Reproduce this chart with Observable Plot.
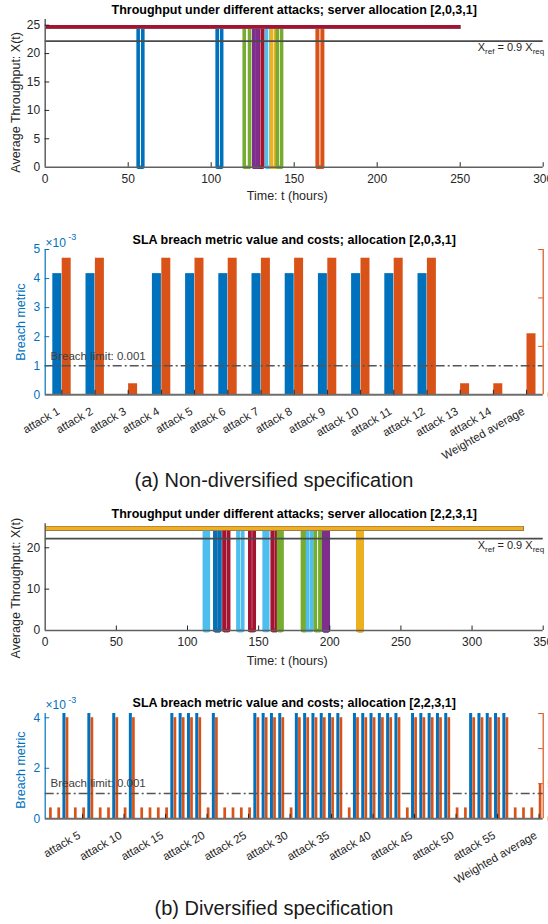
<!DOCTYPE html>
<html>
<head>
<meta charset="utf-8">
<script src="https://cdn.jsdelivr.net/npm/d3@7"></script>
<script src="https://cdn.jsdelivr.net/npm/@observablehq/plot@0.6"></script>
<style>
  html, body { margin: 0; padding: 0; background: #fff; }
  #root { position: relative; width: 548px; height: 924px; overflow: hidden; background: #fff;
          font-family: "Liberation Sans", Arial, Helvetica, sans-serif; }
  .panel { position: absolute; left: 0; }
  .caption { position: absolute; left: 0; width: 548px; text-align: center; font-size: 20px;
             line-height: 24px; color: #1a1a1a; font-family: "Liberation Sans", Arial, Helvetica, sans-serif; }
</style>
</head>
<body>
<div id="root"></div>
<script>
// ---------------- DATA ----------------
const colorOrder = ["#0072BD", "#D95319", "#EDB120", "#7E2F8E", "#77AC30", "#4DBEEE", "#A2142F"];
const nominalThroughput = 24.7;
const refThroughput = 22.2;
const breachLimit = 1; // x10^-3

// (a) throughput: dip start / end time per attack (hours), null = no dip
const dipStartA = [56.0, 164.0, null, 125.6, 119.9, 133.3, 128.6, 103.6, 164.0, 136.3, 125.8, 139.8, null, null];
const dipEndA   = [58.8, 167.0, null, 128.0, 123.1, 136.0, 131.0, 106.3, 167.0, 138.8, 128.2, 142.4, null, null];
const endTimeA = 250;
const timeTicksA = [0, 50, 100, 150, 200, 250, 300];
const thrTicksA = [0, 5, 10, 15, 20, 25];

// (a) breach metric (x10^-3) and cost (right axis)
const catsA = ["attack 1", "attack 2", "attack 3", "attack 4", "attack 5", "attack 6", "attack 7",
  "attack 8", "attack 9", "attack 10", "attack 11", "attack 12", "attack 13", "attack 14", "Weighted average"];
const breachA = [4.17, 4.17, 0, 4.17, 4.17, 4.17, 4.17, 4.17, 4.17, 4.17, 4.17, 4.17, 0, 0, 0];
const costA   = [14.1, 14.1, 1.14, 14.1, 14.1, 14.1, 14.1, 14.1, 14.1, 14.1, 14.1, 14.1, 1.14, 1.14, 6.3];
const breachTicksA = [0, 1, 2, 3, 4, 5];
const costTicks = [0, 5, 10, 15];

// (b) throughput dips for 59 attacks
const dipStartB = [
  null, null, 220.0, null, null, 112.0, null, null, 119.5, null,
  195.8, null, null, null, null, 119.5, 220.0, 195.8, 164.0, null,
  125.8, null, null, null, null, 189.8, 135.6, 143.8, 119.5, null,
  220.0, 195.8, 180.9, 135.6, 159.7, 119.5, null, 220.0, 195.8, 189.8,
  153.9, 159.7, 119.5, null, 220.0, 195.8, 180.9, 184.4, 143.8, null,
  null, 220.0, 195.8, 164.0, 112.0, 125.8, null, null, null];
const dipEndB = [
  null, null, 222.8, null, null, 114.6, null, null, 122.5, null,
  198.9, null, null, null, null, 122.5, 222.8, 198.9, 166.3, null,
  128.8, null, null, null, null, 193.2, 138.7, 146.9, 122.5, null,
  222.8, 198.9, 183.4, 138.7, 162.6, 122.5, null, 222.8, 198.9, 193.2,
  156.4, 162.6, 122.5, null, 222.8, 198.9, 183.4, 187.2, 146.9, null,
  null, 222.8, 198.9, 166.3, 114.6, 128.8, null, null, null];
const endTimeB = 336;
const timeTicksB = [0, 50, 100, 150, 200, 250, 300, 350];
const thrTicksB = [0, 10, 20];

// (b) breach metric and cost for 59 attacks + weighted average
const catsB = [...Array.from({length: 59}, (_, i) => "attack " + (i + 1)), "Weighted average"];
const labelCatsB = ["attack 5", "attack 10", "attack 15", "attack 20", "attack 25", "attack 30",
  "attack 35", "attack 40", "attack 45", "attack 50", "attack 55", "Weighted average"];
const breachB = [
  0, 0, 4.17, 0, 0, 4.17, 0, 0, 4.17, 0,
  4.17, 0, 0, 0, 0, 4.17, 4.17, 4.17, 4.17, 0,
  4.17, 0, 0, 0, 0, 4.17, 4.17, 4.17, 4.17, 0,
  4.17, 4.17, 4.17, 4.17, 4.17, 4.17, 0, 4.17, 4.17, 4.17,
  4.17, 4.17, 4.17, 0, 4.17, 4.17, 4.17, 4.17, 4.17, 0,
  0, 4.17, 4.17, 4.17, 4.17, 4.17, 0, 0, 0, 0];
const costB = [
  1.55, 1.55, 14.4, 1.55, 1.55, 14.4, 1.55, 1.55, 14.4, 1.55,
  14.4, 1.55, 1.55, 1.55, 1.55, 14.4, 14.4, 14.4, 14.4, 1.55,
  14.4, 1.55, 1.55, 1.55, 1.55, 14.4, 14.4, 14.4, 14.4, 1.55,
  14.4, 14.4, 14.4, 14.4, 14.4, 14.4, 1.55, 14.4, 14.4, 14.4,
  14.4, 14.4, 14.4, 1.55, 14.4, 14.4, 14.4, 14.4, 14.4, 1.55,
  1.55, 14.4, 14.4, 14.4, 14.4, 14.4, 1.55, 1.55, 1.55, 5.0];
const breachTicksB = [0, 2, 4];

// ---------------- DRAWING ----------------
const W = 548;
const BLUE = "#0072BD", ORANGE = "#D95319";
const TICK = "#262626", AXIS = "#606060";
const FONT = '"Liberation Sans", Arial, Helvetica, sans-serif';
const REF_LABEL = "Xref = 0.9 Xreq";
const root = document.getElementById("root");

function dipSeries(start, end, endTime) {
  if (start == null) return [{t: 0, v: nominalThroughput}, {t: endTime, v: nominalThroughput}];
  return [
    {t: 0, v: nominalThroughput}, {t: start, v: nominalThroughput}, {t: start, v: 0},
    {t: end, v: 0}, {t: end, v: nominalThroughput}, {t: endTime, v: nominalThroughput}
  ];
}

function place(svg, top) {
  const wrap = document.createElement("div");
  wrap.className = "panel";
  wrap.style.top = top + "px";
  wrap.appendChild(svg);
  root.appendChild(wrap);
  d3.select(svg).selectAll("text").each(function () {
    if (this.textContent === REF_LABEL) {
      const t = d3.select(this);
      t.text(null);
      t.append("tspan").text("X");
      t.append("tspan").attr("dy", "3").attr("font-size", "8").text("ref");
      t.append("tspan").attr("dy", "-3").text(" = 0.9 X");
      t.append("tspan").attr("dy", "3").attr("font-size", "8").text("req");
    }
  });
}

function linePanel(o) {
  const fh = o.h - o.mt - o.mb, fw = W - o.ml - o.mr;
  const marks = [];
  o.starts.forEach((s, i) => {
    marks.push(Plot.line(dipSeries(s, o.ends[i], o.endTime), {
      x: "t", y: "v", stroke: colorOrder[i % 7], strokeWidth: 3.6, strokeLinejoin: "round", strokeLinecap: "butt"
    }));
  });
  marks.push(
    Plot.ruleY([refThroughput], {stroke: "#4a4a4a", strokeWidth: 1.8}),
    Plot.ruleX([0], {stroke: AXIS, strokeWidth: 1.5}),
    Plot.ruleY([0], {stroke: AXIS, strokeWidth: 1.5}),
    Plot.ruleX(o.xTicks.slice(1), {x: d => d, stroke: TICK, strokeWidth: 1, insetTop: fh - 4.5}),
    Plot.ruleY(o.yTicks.slice(1), {y: d => d, stroke: TICK, strokeWidth: 1, insetRight: fw - 4.5}),
    Plot.axisX({ticks: o.xTicks, tickSize: 0, tickPadding: 7, label: null, fontSize: 12, color: TICK, tickFormat: d => String(d)}),
    Plot.axisY({ticks: o.yTicks, tickSize: 0, tickPadding: 5, label: null, fontSize: 12, color: TICK, tickFormat: d => String(d)}),
    Plot.text([o.title], {frameAnchor: "top", lineAnchor: "middle", dy: o.titleDy, fontWeight: "bold", fontSize: 12.5, fill: "#000"}),
    Plot.text(["Time: t (hours)"], {frameAnchor: "bottom", lineAnchor: "middle", textAnchor: "middle", dy: o.xlabDy, dx: -7, fontSize: 12.5, fill: TICK}),
    Plot.text(["Average Throughput: X(t)"], {frameAnchor: "left", textAnchor: "middle", lineAnchor: "middle", rotate: -90, dx: -29.7, dy: o.ylabDy, fontSize: 12.5, fill: TICK}),
    Plot.text([REF_LABEL], {y: () => refThroughput, frameAnchor: "right", textAnchor: "end", lineAnchor: "middle", dy: o.refDy, dx: 1, fontSize: 11, fill: TICK})
  );
  return Plot.plot({
    width: W, height: o.h,
    marginTop: o.mt, marginBottom: o.mb, marginLeft: o.ml, marginRight: o.mr,
    x: {type: "linear", domain: o.xDomain, axis: null},
    y: {type: "linear", domain: o.yDomain, axis: null},
    style: {fontFamily: FONT, fontSize: "12px", color: TICK, background: "transparent"},
    marks
  });
}

function barPanel(o) {
  const fh = o.h - o.mt - o.mb, fw = W - o.ml - o.mr;
  const bw = fw / o.cats.length;
  const k = o.yMax / 15;
  const rows = o.cats.map((c, i) => ({cat: c, breach: o.breach[i], cost: o.cost[i]}));
  const marks = [
    Plot.barY(rows, {x: "cat", y: "breach", fill: BLUE,
      insetLeft: bw * (0.5 - o.blueW), insetRight: bw * 0.5}),
    Plot.barY(rows, {x: "cat", y: d => d.cost * k, fill: ORANGE,
      insetLeft: bw * (0.5 + o.orangeGap), insetRight: bw * (0.5 - o.orangeGap - o.orangeW)}),
    Plot.ruleY([breachLimit], {y: d => d, stroke: "#555", strokeWidth: 1.5, strokeDasharray: "9,3,2,3"}),
    Plot.text(["Breach limit: 0.001"], {y: () => breachLimit, frameAnchor: "left", textAnchor: "start", lineAnchor: "middle",
      dx: 5.3, dy: o.limitDy, fontSize: 11.5, fill: "#404040"}),
    Plot.ruleY([0], {stroke: "#6e6e6e", strokeWidth: 2}),
    Plot.ruleX(o.tickCats, {x: d => d, stroke: TICK, strokeWidth: 1, insetTop: fh - 4.5}),
    Plot.ruleX([o.cats[0]], {x: d => d, dx: -bw / 2, stroke: BLUE, strokeWidth: 1.2}),
    Plot.ruleX([o.cats[o.cats.length - 1]], {x: d => d, dx: bw / 2, stroke: ORANGE, strokeWidth: 1.2}),
    Plot.ruleY(o.yTicks.slice(1), {y: d => d, stroke: BLUE, strokeWidth: 1, insetRight: fw - 4.5}),
    Plot.ruleY(costTicks.slice(1), {y: d => d * k, stroke: ORANGE, strokeWidth: 1, insetLeft: fw - 4.5}),
    Plot.axisY({ticks: o.yTicks, tickSize: 0, tickPadding: 5, label: null, color: BLUE, fontSize: 12, tickFormat: d => String(d)}),
    Plot.text(costTicks, {y: d => d * k, text: d => String(d), frameAnchor: "right", textAnchor: "start", lineAnchor: "middle", dx: 4, fill: ORANGE, fontSize: 12}),
    Plot.text(o.tickCats, {x: d => d, frameAnchor: "bottom", rotate: -30, textAnchor: "end",
      lineAnchor: "middle", dy: 15.5, dx: -3, fontSize: 11.5, fill: TICK}),
    Plot.text(["×10"], {frameAnchor: "top-left", textAnchor: "start", lineAnchor: "middle", dx: 0.3, dy: o.expDy, fill: BLUE, fontSize: 12}),
    Plot.text(["-3"], {frameAnchor: "top-left", textAnchor: "start", lineAnchor: "middle", dx: 23, dy: o.expDy - 5.8, fill: BLUE, fontSize: 9}),
    Plot.text([o.title], {frameAnchor: "top", lineAnchor: "middle", dy: o.titleDy, fontWeight: "bold", fontSize: 12.5, fill: "#000"}),
    Plot.text(["Breach metric"], {frameAnchor: "left", textAnchor: "middle", lineAnchor: "middle", rotate: -90, dx: -24.7, dy: o.ylabDy, fill: BLUE, fontSize: 12.5})
  ];
  return Plot.plot({
    width: W, height: o.h,
    marginTop: o.mt, marginBottom: o.mb, marginLeft: o.ml, marginRight: o.mr,
    x: {type: "band", domain: o.cats, padding: 0, round: false, axis: null},
    y: {type: "linear", domain: [0, o.yMax], axis: null},
    style: {fontFamily: FONT, fontSize: "12px", color: TICK, background: "transparent"},
    marks
  });
}

// Panel 1
place(linePanel({
  h: 205, mt: 19, mb: 38.3, ml: 44.7, mr: 5.3,
  starts: dipStartA, ends: dipEndA, endTime: endTimeA,
  xDomain: [0, 300], yDomain: [0, 26], xTicks: timeTicksA, yTicks: thrTicksA,
  title: "Throughput under different attacks; server allocation [2,0,3,1]",
  titleDy: -10, xlabDy: 28.5, ylabDy: 9, refDy: 6
}), 0);

// Panel 2
place(barPanel({
  h: 236, mt: 21, mb: 69.7, ml: 44.7, mr: 5.3,
  cats: catsA, tickCats: catsA, breach: breachA, cost: costA,
  yMax: 5, yTicks: breachTicksA,
  blueW: 0.271, orangeGap: 0.012, orangeW: 0.271,
  title: "SLA breach metric value and costs; allocation [2,0,3,1]",
  titleDy: -10, limitDy: -9.5, expDy: -6.5, ylabDy: 0
}), 228);

// Panel 3
place(linePanel({
  h: 170, mt: 23.3, mb: 40, ml: 44.7, mr: 5.3,
  starts: dipStartB, ends: dipEndB, endTime: endTimeB,
  xDomain: [0, 350], yDomain: [0, 25.8], xTicks: timeTicksB, yTicks: thrTicksB,
  title: "Throughput under different attacks; server allocation [2,2,3,1]",
  titleDy: -10, xlabDy: 30, ylabDy: 11, refDy: 7
}), 500);

// Panel 4
place(barPanel({
  h: 200, mt: 23, mb: 71.7, ml: 44.7, mr: 5.3,
  cats: catsB, tickCats: labelCatsB, breach: breachB, cost: costB,
  yMax: 4.17, yTicks: breachTicksB,
  blueW: 0.362, orangeGap: 0.024, orangeW: 0.326,
  title: "SLA breach metric value and costs; allocation [2,2,3,1]",
  titleDy: -11, limitDy: -10.7, expDy: -8, ylabDy: 4
}), 690);

// Captions
const capA = document.createElement("div");
capA.className = "caption"; capA.style.top = "468px";
capA.textContent = "(a) Non-diversified specification";
root.appendChild(capA);
const capB = document.createElement("div");
capB.className = "caption"; capB.style.top = "896px";
capB.textContent = "(b) Diversified specification";
root.appendChild(capB);
</script>
</body>
</html>
